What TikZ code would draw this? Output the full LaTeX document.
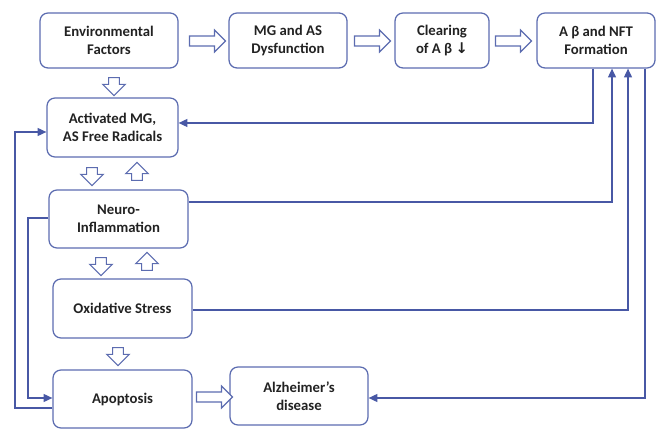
\documentclass[tikz,border=0pt]{standalone}
\usepackage{fontspec}
\setmainfont{Carlito}
\newfontfamily\symfont{DejaVu Sans}
\usetikzlibrary{arrows.meta,positioning,shapes.arrows}
\definecolor{lineblue}{RGB}{72,88,165}
\definecolor{boxblue}{RGB}{92,108,176}
\definecolor{textdark}{RGB}{34,34,34}

\begin{document}
\begin{tikzpicture}[
    box/.style={draw=boxblue, line width=0.9pt, rounded corners=0.2cm, align=center, inner sep=2pt,
      text=textdark, font=\fontsize{10.5}{12.8}\selectfont\bfseries},
    conn/.style={draw=lineblue, line width=0.9pt, -{Triangle[length=2.2mm,width=2mm]}},
    blockh/.style={single arrow, draw=boxblue, line width=0.8pt, fill=white, inner sep=0.11cm,
      minimum height=0.9cm, minimum width=0.525cm, single arrow head extend=0.15cm, single arrow tip angle=90},
    blockdown/.style={blockh, inner sep=0.12cm, minimum height=0.45cm, minimum width=0.55cm, shape border rotate=270},
    blockup/.style={blockh, inner sep=0.12cm, minimum height=0.45cm, minimum width=0.55cm, shape border rotate=90}
  ]
    \useasboundingbox (0,0) rectangle (16.6,-10.75);

    % top row
    \node[box, minimum width=3.45cm, minimum height=1.375cm] (env) at (2.725,-1.0125) {Environmental\\Factors};
    \node[box, minimum width=2.95cm, minimum height=1.375cm] (mgas) at (7.2,-1.0125) {MG and AS\\Dysfunction};
    \node[box, minimum width=2.35cm, minimum height=1.375cm] (clear) at (11.05,-1.0125) {Clearing\\of A β {\symfont\bfseries ↓}};
    \node[box, minimum width=2.95cm, minimum height=1.375cm] (abeta) at (14.9,-1.0125) {A β and NFT\\Formation};

    % left column
    \node[box, minimum width=3.275cm, minimum height=1.475cm] (activ) at (2.8125,-3.1875) {Activated MG,\\AS Free Radicals};
    \node[box, minimum width=3.475cm, minimum height=1.45cm] (neuro) at (2.9625,-5.475) {Neuro-\\Inflammation};
    \node[box, minimum width=3.475cm, minimum height=1.475cm] (oxid) at (3.0625,-7.7125) {Oxidative Stress};
    \node[box, minimum width=3.475cm, minimum height=1.45cm] (apop) at (3.0625,-9.975) {Apoptosis};
    \node[box, minimum width=3.45cm, minimum height=1.45cm] (alz) at (7.475,-9.9) {Alzheimer’s\\disease};

    % block arrows
    \node[blockh] (ba1) at (5.125,-1.025) {};
    \node[blockh] (ba2) at (9.25,-1.025) {};
    \node[blockh] (ba3) at (12.775,-1.025) {};
    \node[blockh] (ba4) at (5.3,-9.925) {};
    \node[blockdown] (bd1) at (2.85,-2.1) {};
    \node[blockdown] (bd2) at (2.3,-4.35) {};
    \node[blockup] (bu2) at (3.425,-4.35) {};
    \node[blockdown] (bd3) at (2.525,-6.6) {};
    \node[blockup] (bu3) at (3.675,-6.6) {};
    \node[blockdown] (bd4) at (2.95,-8.85) {};

    % feedback lines
    \coordinate (t1) at (14.825,-3.075);
    \coordinate (t2) at (15.3,-5.05);
    \coordinate (t3) at (15.7,-7.75);
    \coordinate (t4) at (16.125,-9.95);
    \coordinate (t5) at (0.375,-10.2);
    \coordinate (t6) at (0.375,-3.3);
    \coordinate (t7) at (0.7,-5.45);
    \coordinate (t8) at (0.7,-9.95);

    \draw[conn] (abeta.south -| t1) -- (t1) -- (activ.east |- t1);
    \draw[conn] (neuro.east |- t2) -- (t2) -- (abeta.south -| t2);
    \draw[conn] (oxid.east |- t3) -- (t3) -- (abeta.south -| t3);
    \draw[conn] (abeta.south -| t4) -- (t4) -- (alz.east |- t4);
    \draw[conn] (apop.west |- t5) -- (t5) -- (t6) -- (activ.west |- t6);
    \draw[conn] (neuro.west |- t7) -- (t7) -- (t8) -- (apop.west |- t8);
  \end{tikzpicture}
\end{document}
